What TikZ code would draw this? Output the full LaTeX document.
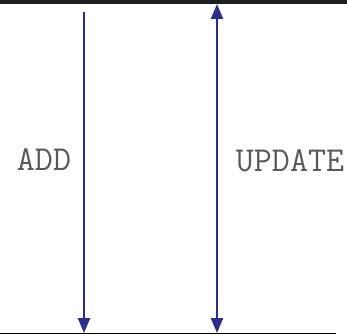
\documentclass[tikz,border=0pt]{standalone}
\usetikzlibrary{arrows.meta}
\definecolor{arrowblue}{RGB}{43,45,145}
\definecolor{rule}{RGB}{30,30,30}
\tikzset{
  flow/.style={draw=arrowblue, line width=2.2pt, -{Triangle[length=15pt,width=12pt]}},
  lbl/.style={font=\ttfamily\fontsize{35}{35}\selectfont, text=black!65, inner sep=0pt},
}
\begin{document}
\begin{tikzpicture}[x=1pt,y=1pt]
\useasboundingbox (0,0) rectangle (347,-334);
\coordinate (tl) at (0,-1.8);
\coordinate (tr) at (347,-1.8);
\coordinate (bl) at (0,-333);
\coordinate (br) at (336,-333);
\draw[rule, line width=3.6pt] (tl) -- (tr);
\draw[black, line width=1pt] (bl) -- (br);
\coordinate (addtop) at (84,-12);
\coordinate (addbot) at (84,-333);
\coordinate (uptop) at (217,-4);
\coordinate (upbot) at (217,-333);
\draw[flow] (addtop) -- (addbot);
\draw[flow, {Triangle[length=15pt,width=12pt]}-{Triangle[length=15pt,width=12pt]}] (uptop) -- (upbot);
\node[lbl] (add) at (44,-160) {ADD};
\node[lbl] (update) at (290,-161) {UPDATE};
\end{tikzpicture}
\end{document}
